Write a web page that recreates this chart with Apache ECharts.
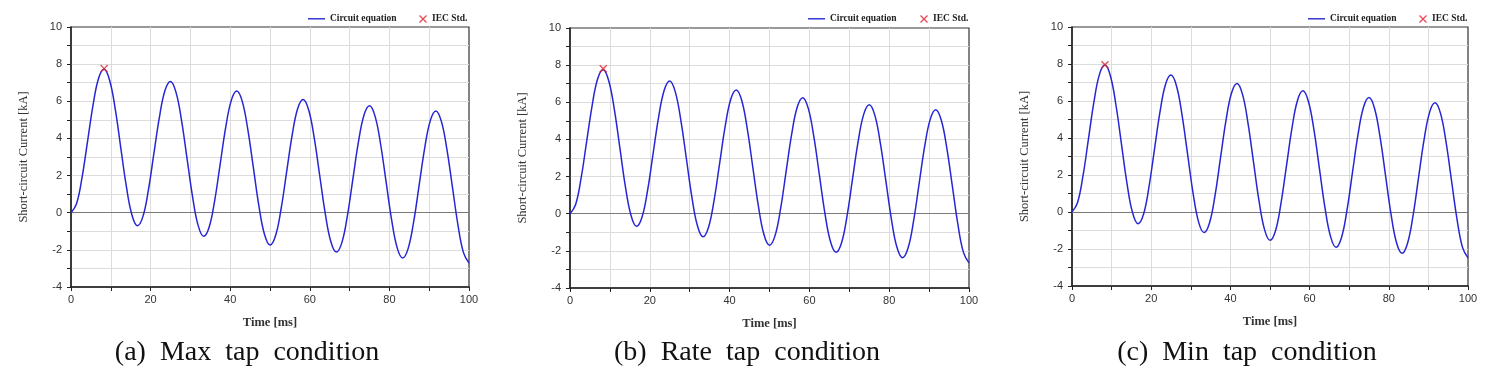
<!DOCTYPE html>
<html>
<head>
<meta charset="utf-8">
<script src="https://cdn.jsdelivr.net/npm/echarts@6/dist/echarts.min.js"></script>
<style>
html,body{margin:0;padding:0;background:#fff;}
#chart{width:1495px;height:378px;}
</style>
</head>
<body>
<div id="chart"></div>
<script>
// ---- data ----
const timeMs = [
  0, 1.39, 2.78, 4.17, 5.56, 6.94, 8.33, 9.72, 11.11, 12.5, 13.89, 15.28,
  16.67, 18.06, 19.44, 20.83, 22.22, 23.61, 25, 26.39, 27.78, 29.17, 30.56, 31.94,
  33.33, 34.72, 36.11, 37.5, 38.89, 40.28, 41.67, 43.06, 44.44, 45.83, 47.22, 48.61,
  50, 51.39, 52.78, 54.17, 55.56, 56.94, 58.33, 59.72, 61.11, 62.5, 63.89, 65.28,
  66.67, 68.06, 69.44, 70.83, 72.22, 73.61, 75, 76.39, 77.78, 79.17, 80.56, 81.94,
  83.33, 84.72, 86.11, 87.5, 88.89, 90.28, 91.67, 93.06, 94.44, 95.83, 97.22, 98.61,
  100
];
// (a) Max tap condition [kA]
const currentMax = [
  0.00, 0.48, 1.90, 3.86, 5.82, 7.24, 7.72, 7.12, 5.59, 3.51, 1.44, -0.10,
  -0.70, -0.21, 1.22, 3.19, 5.15, 6.58, 7.07, 6.48, 4.96, 2.90, 0.84, -0.68,
  -1.27, -0.77, 0.67, 2.64, 4.62, 6.05, 6.55, 5.97, 4.46, 2.41, 0.35, -1.16,
  -1.74, -1.24, 0.20, 2.18, 4.16, 5.60, 6.10, 5.53, 4.03, 1.99, -0.05, -1.55,
  -2.12, -1.61, -0.17, 1.82, 3.81, 5.25, 5.76, 5.20, 3.70, 1.66, -0.38, -1.88,
  -2.44, -1.92, -0.47, 1.52, 3.51, 4.96, 5.48, 4.92, 3.42, 1.39, -0.65, -2.15,
  -2.71
];
// (b) Rate tap condition [kA]
const currentRate = [
  0.00, 0.48, 1.91, 3.88, 5.84, 7.27, 7.75, 7.15, 5.62, 3.54, 1.45, -0.08,
  -0.68, -0.18, 1.25, 3.24, 5.22, 6.65, 7.15, 6.56, 5.03, 2.96, 0.88, -0.65,
  -1.24, -0.73, 0.72, 2.71, 4.70, 6.15, 6.66, 6.08, 4.55, 2.48, 0.41, -1.12,
  -1.70, -1.18, 0.27, 2.28, 4.28, 5.73, 6.25, 5.67, 4.15, 2.09, 0.02, -1.50,
  -2.08, -1.56, -0.11, 1.90, 3.90, 5.35, 5.87, 5.31, 3.80, 1.75, -0.30, -1.81,
  -2.37, -1.85, -0.39, 1.62, 3.62, 5.08, 5.60, 5.03, 3.53, 1.48, -0.58, -2.08,
  -2.65
];
// (c) Min tap condition [kA]
const currentMin = [
  0.00, 0.50, 1.96, 3.97, 5.98, 7.44, 7.94, 7.34, 5.77, 3.66, 1.54, -0.03,
  -0.63, -0.12, 1.36, 3.39, 5.41, 6.89, 7.40, 6.81, 5.25, 3.15, 1.04, -0.52,
  -1.11, -0.59, 0.89, 2.92, 4.95, 6.43, 6.95, 6.36, 4.81, 2.71, 0.61, -0.94,
  -1.53, -1.01, 0.48, 2.51, 4.55, 6.03, 6.55, 5.96, 4.42, 2.32, 0.22, -1.32,
  -1.91, -1.38, 0.10, 2.14, 4.18, 5.66, 6.19, 5.61, 4.07, 1.98, -0.11, -1.65,
  -2.23, -1.70, -0.21, 1.84, 3.88, 5.37, 5.90, 5.33, 3.80, 1.71, -0.38, -1.91,
  -2.48
];
// IEC standard peak markers
const iecTime = [8.33, 8.33, 8.33];
const iecPeak = [7.76, 7.81, 7.96];

const seriesNames = ['Circuit equation', 'IEC Std.'];
const captions = ['(a)  Max  tap  condition', '(b)  Rate  tap  condition', '(c)  Min  tap  condition'];
const xLabelValues = [0, 20, 40, 60, 80, 100];
const yLabelValues = [-4, -2, 0, 2, 4, 6, 8, 10];
const xAxisTitle = 'Time [ms]';
const yAxisTitle = 'Short-circuit Current [kA]';

// ---- layout / styling ----
const panels = [
  { values: currentMax,  grid: { left: 71,   top: 27, width: 398, height: 260 }, legendLine: 308,  legendMark: 419,  captionX: 247 },
  { values: currentRate, grid: { left: 570,  top: 28, width: 399, height: 260 }, legendLine: 808,  legendMark: 920,  captionX: 747 },
  { values: currentMin,  grid: { left: 1072, top: 27, width: 396, height: 259 }, legendLine: 1308, legendMark: 1419, captionX: 1247 }
];

const lineColor = '#2626d4';
const markColor = '#e0202c';
const crossPath = 'path://M0,1.2 L1.2,0 L5,3.8 L8.8,0 L10,1.2 L6.2,5 L10,8.8 L8.8,10 L5,6.2 L1.2,10 L0,8.8 L3.8,5 Z';
const serif = '"Liberation Serif", "Times New Roman", serif';
const sans = '"Liberation Sans", Arial, sans-serif';

const option = {
  animation: false,
  backgroundColor: '#ffffff',
  grid: [], xAxis: [], yAxis: [], series: [], legend: [], graphic: []
};

panels.forEach((p, i) => {
  option.grid.push(Object.assign({ show: true, borderColor: '#333', borderWidth: 1.2, backgroundColor: '#fff' }, p.grid));
  option.xAxis.push({
    type: 'value', gridIndex: i, min: 0, max: 100, interval: 10,
    name: xAxisTitle, nameLocation: 'middle', nameGap: 29,
    nameTextStyle: { fontFamily: serif, fontSize: 12.5, fontWeight: 'bold', color: '#333' },
    axisLine: { show: true, onZero: false, lineStyle: { color: '#222', width: 1.5 } },
    axisTick: { show: true, inside: false, length: 4, lineStyle: { color: '#222', width: 1 } },
    axisLabel: { margin: 7, fontFamily: sans, fontSize: 11, color: '#333',
      formatter: v => xLabelValues.includes(v) ? String(v) : '' },
    splitLine: { show: true, showMinLine: false, showMaxLine: false, lineStyle: { color: '#dcdcdc', width: 1 } }
  });
  option.yAxis.push({
    type: 'value', gridIndex: i, min: -4, max: 10, interval: 1,
    name: yAxisTitle, nameLocation: 'middle', nameGap: 41,
    nameTextStyle: { fontFamily: serif, fontSize: 12.5, color: '#333' },
    axisLine: { show: true, onZero: false, lineStyle: { color: '#222', width: 1.5 } },
    axisTick: { show: true, inside: false, length: 4, lineStyle: { color: '#222', width: 1 } },
    axisLabel: { margin: 9, fontFamily: sans, fontSize: 11, color: '#333',
      formatter: v => yLabelValues.includes(v) ? String(v) : '' },
    splitLine: { show: true, showMinLine: false, showMaxLine: false, lineStyle: { color: '#dcdcdc', width: 1 } }
  });
  option.series.push({
    type: 'line', name: seriesNames[0], xAxisIndex: i, yAxisIndex: i,
    data: timeMs.map((t, k) => [t, p.values[k]]),
    symbol: 'none', smooth: 0.4, z: 3,
    lineStyle: { color: lineColor, width: 1.5 }, itemStyle: { color: lineColor },
    markLine: {
      silent: true, symbol: 'none', label: { show: false }, z: 1,
      lineStyle: { color: '#7a7a7a', width: 1, type: 'solid' },
      data: [{ yAxis: 0 }]
    }
  });
  option.series.push({
    type: 'scatter', name: seriesNames[1], xAxisIndex: i, yAxisIndex: i,
    data: [[iecTime[i], iecPeak[i]]],
    symbol: crossPath, symbolSize: 8, z: 5,
    itemStyle: { color: markColor }
  });
  option.legend.push({
    left: p.legendLine, top: 13.8, padding: 0, itemWidth: 17, itemHeight: 1.4, itemGap: 0,
    selectedMode: false, data: [{ name: seriesNames[0], icon: 'rect' }],
    itemStyle: { color: lineColor, borderWidth: 0 },
    textStyle: { fontFamily: serif, fontSize: 9.5, fontWeight: 'bold', color: '#222' }
  });
  option.legend.push({
    left: p.legendMark, top: 14, padding: 0, itemWidth: 8, itemHeight: 8, itemGap: 0,
    selectedMode: false, data: [{ name: seriesNames[1], icon: crossPath }],
    textStyle: { fontFamily: serif, fontSize: 9.5, fontWeight: 'bold', color: '#222' }
  });
  option.graphic.push({
    type: 'text', x: p.captionX, y: 353, silent: true,
    style: {
      text: captions[i], font: '28px ' + serif, fill: '#111',
      align: 'center', verticalAlign: 'middle', textAlign: 'center', textVerticalAlign: 'middle'
    }
  });
});

const chart = echarts.init(document.getElementById('chart'), null, { renderer: 'canvas' });
chart.setOption(option);
</script>
</body>
</html>
